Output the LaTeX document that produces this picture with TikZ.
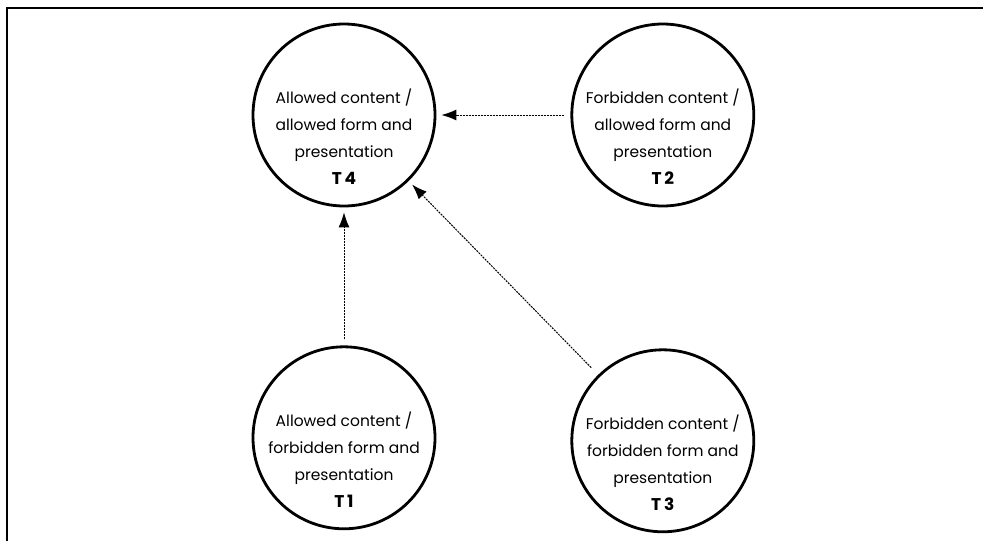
\documentclass[tikz,border=0pt]{standalone}
\usepackage{fontspec}
\setmainfont{Poppins}
\usetikzlibrary{positioning,arrows.meta}
\newcommand{\typetag}[1]{{\bfseries\fontsize{17}{27}\selectfont T\,#1}}

\begin{document}
\begin{tikzpicture}[x=1pt, y=-1pt, >={Latex[length=15pt,width=11pt]},
    state/.style={
    draw,
    circle,
    line width=2.8pt,
    minimum size=182pt,
    inner sep=0pt},
    caption/.style={align=center, yshift=-22pt,
    font=\fontsize{15.5}{27}\selectfont},
    link/.style={->, line width=1pt, dash pattern=on 2pt off 1pt,
    shorten >=5pt, shorten <=6pt}]
    \useasboundingbox (0,0) rectangle (983,541);

    % frame, cut at right and bottom
    \coordinate (FrameTL) at (7,8);
    \draw[line width=1.4pt] (983,8) -- (FrameTL) -- (7,541);

    \node [state, label={[caption]center:Allowed content /\\allowed form and\\presentation\\\typetag{4}}] (T4) at (344,115) {};
    \node [state, right=134pt of T4,
           label={[caption]center:Forbidden content /\\allowed form and\\presentation\\\typetag{2}}] (T2) {};

    \node [state, below=138pt of T4,
           label={[caption]center:Allowed content /\\forbidden form and\\presentation\\\typetag{1}}] (T1) {};
    \node [state, below=141pt of T2,
           label={[caption]center:Forbidden content /\\forbidden form and\\presentation\\\typetag{3}}] (T3) {};

    \draw[link] (T2) -- (T4);
    \draw[link] (T1) -- (T4);
    \draw[link, shorten <=10pt] (T3) -- (T4);
\end{tikzpicture}
\end{document}
